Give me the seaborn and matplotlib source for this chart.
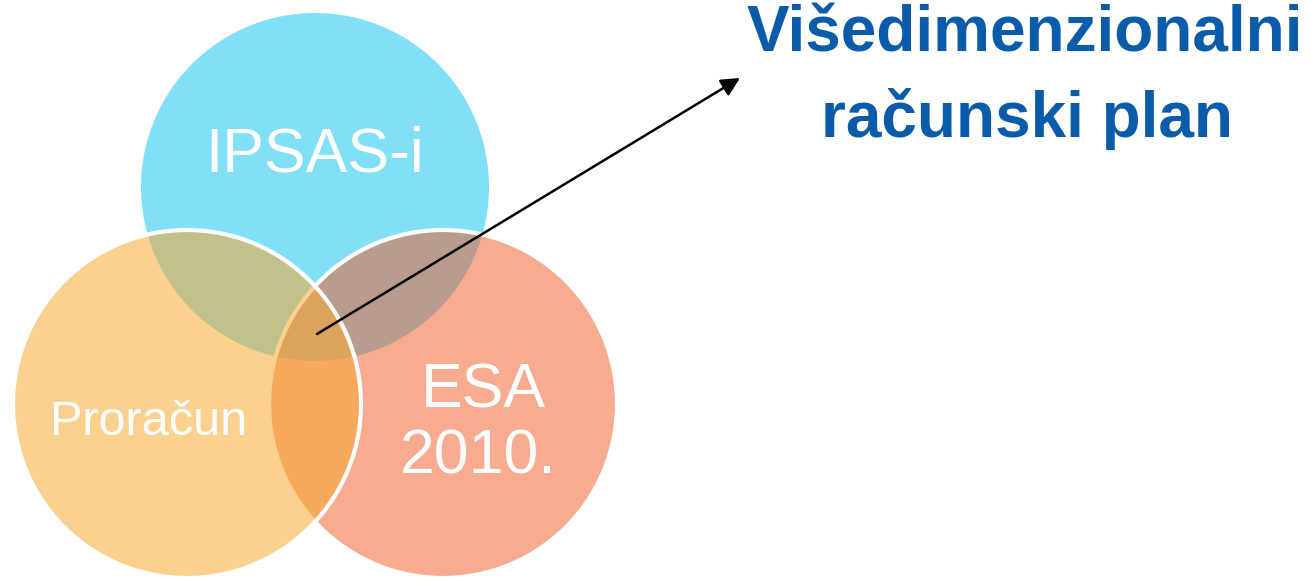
import matplotlib
matplotlib.use("Agg")
import matplotlib.pyplot as plt
from matplotlib.patches import Circle
import seaborn as sns

# sets of the diagram and their labels
set_names = ["IPSAS-i", "ESA 2010.", "Proračun"]
set_colors = ["#81DFF8", "#F15B25", "#F8AA30"]
set_alpha = [1.0, 0.5, 0.54]
result_label = ["Višedimenzionalni", "računski plan"]

sns.set_theme(style="white")
plt.rcParams["font.family"] = ["Liberation Sans", "DejaVu Sans"]

fig = plt.figure(figsize=(13.11, 5.8), dpi=100)
ax = fig.add_axes([0, 0, 1, 1])
ax.set_xlim(0, 1311)
ax.set_ylim(580, 0)
ax.set_aspect("equal")
ax.axis("off")

# circle layout (pixel space): top, right, left -- drawing order matters
centers = [(315, 187), (443, 404), (187, 404)]
radius = 174
edges = ["none", "white", "white"]

for (cx, cy), col, a, ec in zip(centers, set_colors, set_alpha, edges):
    face = matplotlib.colors.to_rgba(col, a)
    c = Circle((cx, cy), radius, facecolor=face, edgecolor=ec, lw=3)
    ax.add_patch(c)

# labels in the circles
ax.text(315, 171, set_names[0], color="white", fontsize=45, ha="center", va="baseline")
esa_top, esa_bot = set_names[1].split(" ")
ax.text(483, 407, esa_top, color="white", fontsize=45, ha="center", va="baseline")
ax.text(478, 473, esa_bot, color="white", fontsize=45, ha="center", va="baseline")
ax.text(149, 435, set_names[2], color="white", fontsize=35, ha="center", va="baseline")

# arrow from the centre of the diagram to the result
ax.annotate("", xy=(740, 78), xytext=(317, 334),
            arrowprops=dict(arrowstyle="-|>", color="black", lw=1.8,
                            mutation_scale=28, shrinkA=0, shrinkB=0))

ax.text(1025, 52, result_label[0], color="#0A5CAB", fontsize=46,
        fontweight="bold", ha="center", va="baseline")
ax.text(1027, 137, result_label[1], color="#0A5CAB", fontsize=46,
        fontweight="bold", ha="center", va="baseline")

plt.savefig("out.png", dpi=100)
